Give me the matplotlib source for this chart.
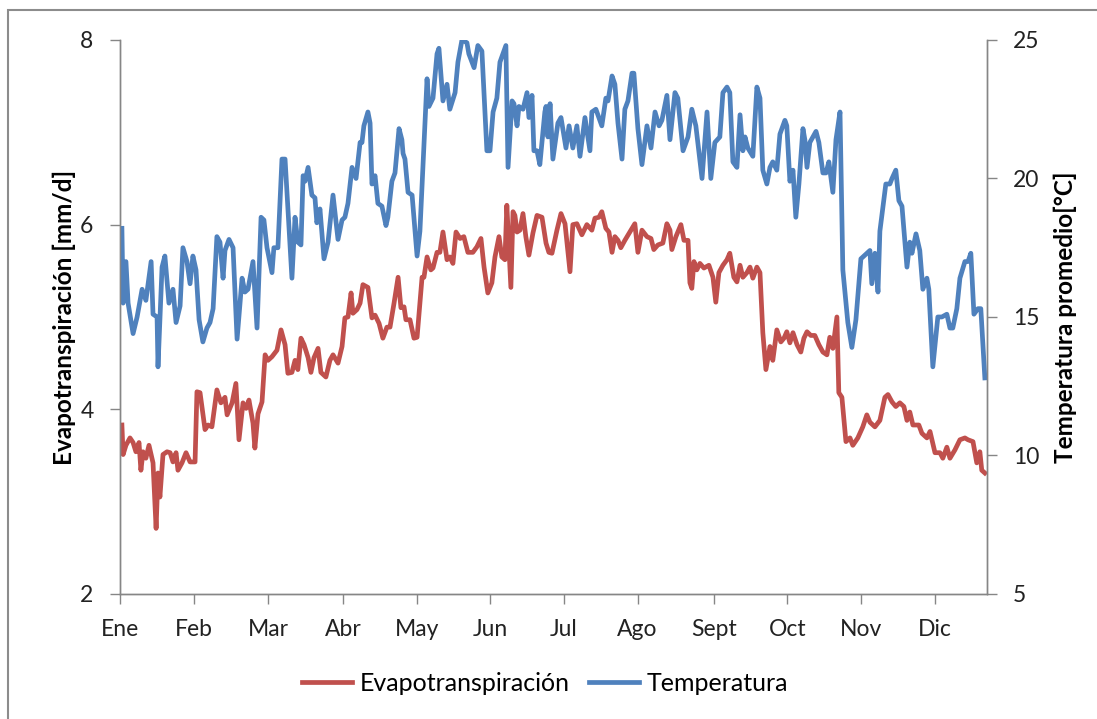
import matplotlib.pyplot as plt
from matplotlib.patches import Rectangle

plt.rcParams['font.family'] = ['Lato', 'DejaVu Sans']

# day of year / value pairs
temp_day = [0.8, 1.3, 2.5, 3.4, 5.5, 7.2, 9.3, 10.9, 13.1, 13.9, 15.6, 16.0, 17.7, 18.9, 20.6,
            22.3, 23.6, 25.3, 26.5, 28.2, 29.5, 30.7, 32.0, 33.3, 34.9, 36.6, 37.9, 39.2, 40.8,
            42.1, 43.4, 44.2, 45.9, 47.6, 49.3, 51.4, 52.6, 53.9, 56.0, 57.7, 59.4, 60.6, 61.9,
            64.0, 64.8, 66.5, 68.2, 69.5, 72.4, 73.7, 74.9, 76.2, 77.1, 77.9, 79.2, 80.8, 82.1,
            82.9, 84.2, 85.9, 87.6, 89.7, 91.8, 93.5, 94.7, 96.0, 97.7, 99.4, 101.1, 101.9, 102.7,
            104.4, 105.3, 106.1, 107.4, 108.6, 110.3, 112.0, 112.8, 114.5, 115.8, 117.5, 118.7,
            119.2, 120.0, 121.3, 123.0, 125.1, 126.3, 129.3, 130.1, 131.8, 133.5, 134.3, 136.0,
            137.7, 138.9, 141.1, 142.3, 144.0, 146.1, 146.9, 149.1, 150.7, 152.4, 154.5, 155.8,
            157.1, 158.7, 160.0, 162.5, 163.4, 165.1, 165.9, 167.2, 168.0, 169.7, 171.4, 172.2,
            173.5, 174.3, 175.6, 176.8, 178.9, 179.4, 180.2, 181.1, 182.3, 184.4, 185.7, 187.8,
            189.1, 190.7, 192.4, 193.7, 195.8, 197.9, 198.7, 200.4, 202.9, 204.6, 205.5, 207.2,
            208.4, 209.7, 211.4, 212.6, 213.9, 215.6, 216.4, 218.1, 219.8, 221.9, 223.6, 225.3,
            227.0, 228.2, 230.3, 231.6, 233.7, 234.9, 237.1, 239.2, 240.8, 242.5, 245.1, 247.2,
            248.8, 250.5, 252.6, 253.9, 255.6, 256.8, 258.1, 259.8, 261.1, 262.3, 263.2, 264.4,
            266.5, 268.2, 269.5, 270.7, 272.4, 273.7, 274.9, 276.6, 277.9, 280.0, 280.8, 282.1,
            283.4, 284.6, 285.9, 287.6, 288.4, 289.3, 290.5, 293.1, 294.3, 296.0, 297.3, 298.5,
            300.2, 301.5, 303.2, 304.4, 306.5, 308.2, 309.9, 312.0, 314.5, 315.8, 316.6, 317.9,
            319.2, 320.0, 322.5, 324.2, 325.1, 326.7, 328.0, 329.3, 331.4, 332.6, 333.5, 335.2,
            336.8, 338.1, 339.8, 340.6, 342.3, 344.4, 346.1, 348.2, 349.5, 350.7, 352.4, 353.7,
            355.8, 357.1, 358.3, 359.6, 361.3, 362.5, 364.2]
temp = [18.2, 15.5, 17.0, 15.5, 14.4, 15.0, 16.0, 15.6, 17.0, 15.1, 15.0, 13.2, 16.8, 17.2, 15.5,
        16.0, 14.8, 15.4, 17.5, 17.0, 16.2, 17.2, 16.7, 14.9, 14.1, 14.6, 14.8, 15.3, 17.9,
        17.7, 16.4, 17.4, 17.8, 17.5, 14.2, 16.4, 15.9, 16.0, 17.0, 14.6, 18.6, 18.5, 17.5,
        16.6, 17.5, 17.5, 20.7, 20.7, 16.4, 18.6, 17.7, 17.6, 20.1, 19.9, 20.4, 19.4, 19.3,
        18.4, 18.9, 17.1, 17.7, 19.4, 17.8, 18.5, 18.6, 19.1, 20.4, 20.0, 21.3, 21.3, 21.9,
        22.4, 22.0, 19.8, 20.1, 19.1, 19.0, 18.3, 18.6, 19.9, 20.2, 21.8, 21.4,
        20.9, 20.7, 19.5, 19.4, 17.2, 18.1, 23.6, 22.6, 22.9, 24.5, 24.7, 22.8,
        23.4, 22.5, 23.1, 24.2, 25.0, 24.9, 24.5, 24.0, 24.8, 24.6, 21.0, 21.0,
        22.4, 22.9, 24.2, 24.8, 20.4, 22.8, 22.7, 21.9, 22.6, 22.5, 23.1, 22.2,
        23.0, 21.0, 21.0, 20.5, 22.4, 22.6, 21.5, 22.7, 20.7, 22.0, 22.2, 21.1,
        21.9, 21.1, 21.9, 20.8, 22.2, 21.0, 22.4, 22.5, 21.9, 22.9, 22.8, 23.7,
        23.4, 22.0, 20.7, 22.5, 22.8, 23.8, 23.8, 21.8, 20.5, 21.9, 21.1, 22.4,
        21.9, 22.1, 23.0, 21.4, 23.1, 22.9, 21.0, 21.5, 22.5, 21.9, 20.0, 22.4,
        20.0, 21.3, 21.5, 23.1, 23.3, 23.1, 20.6, 20.4, 22.3, 21.0, 21.5, 21.1,
        20.8, 23.3, 22.9, 20.3, 19.8, 20.4, 20.6, 20.3, 21.6, 22.1, 21.9, 19.9,
        20.3, 18.6, 19.8, 21.8, 21.4, 20.4, 21.3, 21.7, 21.3, 20.2, 20.2, 20.6,
        19.5, 21.4, 22.4, 16.7, 14.8, 13.9, 14.9, 17.1, 17.3, 17.4, 16.2, 17.3,
        15.9, 18.1, 19.8, 19.8, 20.0, 20.3, 19.2, 19.0, 16.8, 17.7, 17.3, 18.0,
        17.4, 16.0, 16.4, 16.0, 13.2, 15.0, 15.0, 15.1, 14.6, 14.6, 15.3, 16.4,
        17.0, 17.0, 17.3, 15.1, 15.3, 15.3, 12.8]

et_day = [0.8, 1.3, 2.5, 4.2, 5.5, 6.7, 8.0, 8.8, 9.7, 10.9, 12.2, 13.9, 15.2, 16.0, 16.8,
          18.1, 19.8, 21.1, 22.3, 23.6, 24.4, 26.1, 27.8, 29.5, 31.6, 32.4, 33.7, 35.8, 37.1,
          38.7, 40.8, 42.5, 44.2, 45.1, 47.2, 48.8, 50.1, 51.8, 53.1, 54.3, 56.0, 56.8, 58.1,
          59.8, 61.1, 62.3, 64.0, 66.1, 67.8, 69.5, 70.7, 72.4, 73.7, 74.9, 76.2, 77.5, 79.2,
          80.4, 81.7, 83.4, 84.6, 86.7, 88.4, 89.7, 91.8, 93.5, 94.7, 96.0, 97.3, 98.1, 99.8,
          101.1, 102.3, 104.4, 106.1, 107.4, 109.1, 110.7, 112.4, 113.7, 115.4, 117.1, 118.3,
          119.6, 120.4, 122.1, 123.8, 125.1, 127.2, 128.0, 129.3, 130.9, 131.8, 133.5, 134.7,
          136.0, 137.7, 138.9, 140.2, 141.5, 143.2, 144.8, 146.5, 148.6, 150.3, 152.0, 153.3,
          154.9, 156.6, 157.9, 159.6, 160.8, 162.1, 162.9, 164.6, 165.5, 166.3, 167.2, 168.4,
          169.7, 170.9, 172.2, 173.9, 175.6, 177.7, 179.4, 180.6, 181.9, 184.0, 185.7, 187.4,
          189.5, 190.7, 192.4, 194.5, 196.6, 198.7, 200.0, 201.7, 202.9, 204.6, 205.9, 207.2,
          208.4, 209.7, 210.9, 212.6, 215.2, 216.8, 218.1, 219.8, 221.9, 223.6, 224.8, 226.5,
          228.6, 230.3, 231.6, 232.4, 234.1, 236.2, 237.5, 239.2, 240.0, 240.8, 241.7, 242.9,
          244.2, 245.9, 248.0, 249.7, 250.9, 252.2, 253.9, 255.6, 256.8, 258.5, 259.8, 261.1,
          262.3, 264.0, 265.3, 266.5, 268.2, 269.5, 270.7, 272.0, 273.7, 274.9, 276.6, 278.3,
          279.6, 280.8, 282.1, 283.4, 285.1, 286.7, 288.0, 289.3, 290.9, 292.6, 294.3, 296.0,
          297.7, 298.9, 300.2, 301.9, 302.7, 304.0, 305.7, 307.4, 308.6, 310.7, 312.8, 314.5,
          315.8, 317.9, 320.0, 322.1, 323.4, 325.1, 326.7, 328.4, 330.1, 331.4, 332.6, 333.9,
          336.4, 337.7, 339.8, 341.1, 343.2, 345.3, 346.5, 348.2, 349.5, 351.6, 353.7, 355.8,
          357.1, 359.2, 360.8, 362.1, 362.9, 364.2]
et = [3.83, 3.51, 3.61, 3.69, 3.64, 3.54, 3.64, 3.34, 3.54, 3.47, 3.61, 3.42, 2.71, 3.31, 3.05,
      3.51, 3.54, 3.53, 3.43, 3.53, 3.34, 3.42, 3.53, 3.43, 3.43, 4.19, 4.18, 3.78, 3.83,
      3.81, 4.21, 4.07, 4.13, 3.94, 4.07, 4.28, 3.67, 4.07, 4.01, 4.10, 3.85, 3.58, 3.95,
      4.08, 4.59, 4.53, 4.57, 4.64, 4.86, 4.70, 4.39, 4.40, 4.53, 4.43, 4.77, 4.70, 4.56,
      4.40, 4.56, 4.66, 4.40, 4.35, 4.53, 4.59, 4.50, 4.68, 4.99, 5.00, 5.26, 5.04, 5.08,
      5.15, 5.35, 5.32, 4.99, 5.02, 4.93, 4.77, 4.89, 4.89, 5.15, 5.43, 5.10,
      5.11, 4.97, 4.97, 4.77, 4.78, 5.43, 5.43, 5.65, 5.51, 5.53, 5.70, 5.70,
      5.92, 5.62, 5.65, 5.58, 5.92, 5.85, 5.87, 5.70, 5.70, 5.76, 5.85, 5.54,
      5.26, 5.37, 5.65, 5.87, 5.65, 5.62, 6.21, 5.32, 6.14, 6.10, 5.92, 5.94,
      6.12, 5.87, 5.67, 5.91, 6.10, 6.08, 5.80, 5.70, 5.69, 5.94, 6.12, 6.01,
      5.49, 6.00, 6.01, 5.89, 6.00, 5.94, 6.07, 6.08, 6.14, 5.96, 5.92, 5.70,
      5.87, 5.83, 5.75, 5.83, 5.94, 6.01, 5.70, 5.94, 5.87, 5.85, 5.73, 5.78,
      5.80, 6.01, 5.94, 5.73, 5.87, 6.00, 5.83, 5.83, 5.37, 5.31, 5.60, 5.51,
      5.58, 5.53, 5.56, 5.43, 5.16, 5.48, 5.56, 5.62, 5.69, 5.43, 5.38, 5.56,
      5.43, 5.48, 5.54, 5.42, 5.54, 5.48, 4.83, 4.43, 4.68, 4.53, 4.86, 4.73,
      4.77, 4.84, 4.72, 4.83, 4.70, 4.62, 4.77, 4.84, 4.80, 4.80, 4.70, 4.62,
      4.59, 4.78, 4.66, 5.00, 4.18, 4.13, 3.65, 3.69, 3.61, 3.69, 3.81, 3.94,
      3.86, 3.81, 3.88, 4.13, 4.16, 4.08, 4.03, 4.07, 4.03, 3.88, 3.97, 3.83,
      3.83, 3.74, 3.69, 3.76, 3.53, 3.53, 3.47, 3.59, 3.47, 3.56, 3.67, 3.69,
      3.67, 3.65, 3.42, 3.54, 3.34, 3.31]

month_pos = [0, 31, 62.5, 94, 125, 156, 187, 218, 250, 281, 312, 343]
months = ['Ene', 'Feb', 'Mar', 'Abr', 'May', 'Jun', 'Jul', 'Ago', 'Sept', 'Oct', 'Nov', 'Dic']

red = '#C0504D'
blue = '#4F81BD'
grey = '#868686'

fig = plt.figure(figsize=(10.97, 7.19), dpi=100)
ax = fig.add_axes([0.1094, 0.1739, 0.7901, 0.7705])
ax2 = ax.twinx()

l1, = ax.plot(et_day, et, color=red, lw=3.4, solid_joinstyle='round', label='Evapotranspiración')
l2, = ax2.plot(temp_day, temp, color=blue, lw=3.4, solid_joinstyle='round', label='Temperatura')

ax.set_xlim(0, 365)
ax.set_ylim(2, 8)
ax.set_yticks([2, 4, 6, 8])
ax2.set_ylim(5, 25)
ax2.set_yticks([5, 10, 15, 20, 25])
ax.set_xticks(month_pos)
ax.set_xticklabels(months)

for a in (ax, ax2):
    a.spines['top'].set_visible(False)
    for s in ('left', 'right', 'bottom'):
        a.spines[s].set_color(grey)
        a.spines[s].set_linewidth(1.0)
    a.tick_params(colors=grey, labelcolor='#222222', labelsize=16.5, length=7, width=1, direction='out')
ax.tick_params(axis='x', pad=11)
ax.tick_params(axis='y', pad=12)
ax2.tick_params(axis='y', pad=12)

ax.set_ylabel('Evapotranspiración [mm/d]', fontsize=17.5, fontweight='bold', labelpad=3)
ax2.set_ylabel('Temperatura promedio[°C]', fontsize=17.5, fontweight='bold', labelpad=10)

fig.legend(handles=[l1, l2], loc='center', bbox_to_anchor=(0.497, 0.05), ncol=2, frameon=False,
           fontsize=18, handlelength=2.0, columnspacing=0.8, handletextpad=0.3)

# chart border
fig.patches.append(Rectangle((8 / 1097, -0.01), 1.02, 1 - 10 / 719 + 0.01, transform=fig.transFigure,
                             fill=False, edgecolor='#8c8c8c', lw=1.5))

fig.savefig('out.png', dpi=100)
